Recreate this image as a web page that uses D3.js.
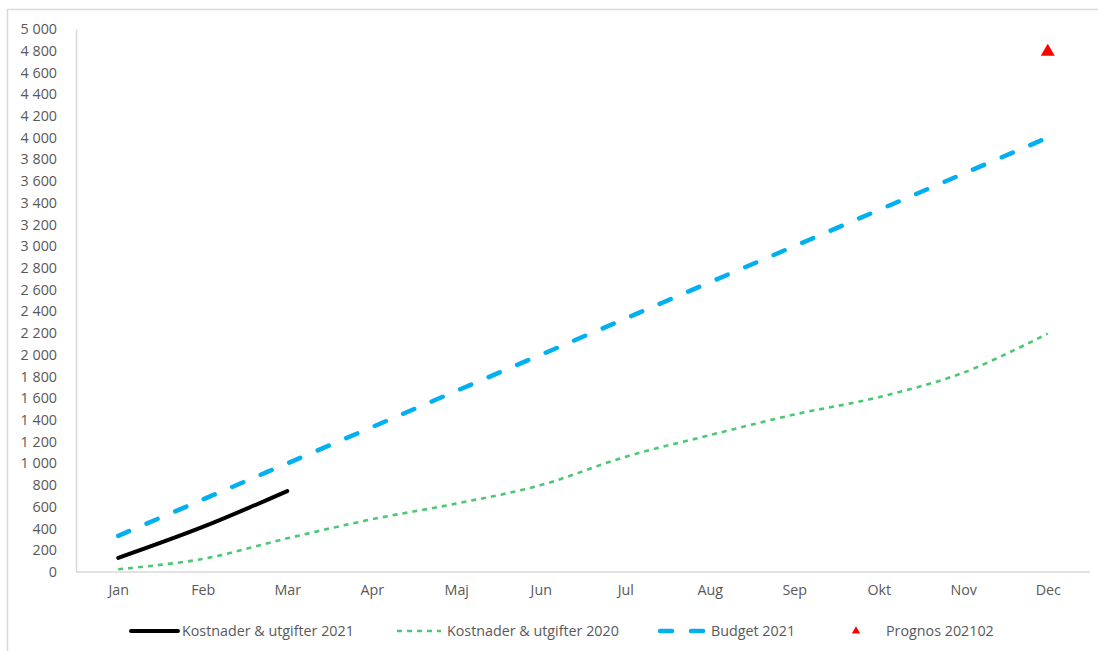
<!DOCTYPE html>
<html>
<head>
<meta charset="utf-8">
<script src="https://cdn.jsdelivr.net/npm/d3@7"></script>
<style>
  html, body { margin: 0; padding: 0; background: #fff; }
  svg { display: block; }
  text { font-family: "Open Sans", "Liberation Sans", Arial, sans-serif; fill: #595959; }
</style>
</head>
<body>
<svg id="chart" width="1098" height="651"></svg>
<script>
// Months of the year
const months = ["Jan", "Feb", "Mar", "Apr", "Maj", "Jun", "Jul", "Aug", "Sep", "Okt", "Nov", "Dec"];

// Accumulated costs 2021 (so far)
const kost2021 = [130, 415, 745];
// Accumulated costs 2020
const kost2020 = [25, 120, 310, 485, 630, 800, 1060, 1260, 1450, 1610, 1835, 2195];
// Accumulated budget 2021
const budget2021 = [333, 667, 1000, 1333, 1667, 2000, 2333, 2667, 3000, 3333, 3667, 4000];
// Forecast (202102) for year end
const prognosMonth = "Dec";
const prognosValue = 4790;

// Y axis ticks
const yTicks = d3.range(0, 5001, 200);

const seriesNames = ["Kostnader & utgifter 2021", "Kostnader & utgifter 2020", "Budget 2021", "Prognos 202102"];

const FONT = "'Open Sans', 'Liberation Sans', Arial, sans-serif";
const FS = 14.3;

const svg = d3.select("#chart");

// chart frame
svg.append("path")
  .attr("d", "M7.5,651 L7.5,9.5 L1098,9.5")
  .attr("fill", "none")
  .attr("stroke", "#d9d9d9")
  .attr("stroke-width", 1.5);

const plot = { left: 76, right: 1090, top: 29, bottom: 572 };

const x = d3.scalePoint()
  .domain(months)
  .range([plot.left, plot.right])
  .padding(0.5);

const y = d3.scaleLinear()
  .domain([0, 5000])
  .range([plot.bottom, plot.top]);

const fmt = v => d3.format(",")(v).replace(/,/g, "\u00a0");

// Y axis
const yAxis = svg.append("g")
  .attr("transform", `translate(${plot.left},0)`)
  .call(d3.axisLeft(y).tickValues(yTicks).tickFormat(fmt).tickSize(0).tickPadding(19));
yAxis.select(".domain").attr("stroke", "#d9d9d9").attr("stroke-width", 1.5);
yAxis.selectAll("text").attr("font-size", FS).style("font-family", FONT).attr("fill", "#595959");

// X axis
const xAxis = svg.append("g")
  .attr("transform", `translate(0,${plot.bottom})`)
  .call(d3.axisBottom(x).tickSize(0).tickPadding(13));
xAxis.select(".domain").attr("stroke", "#d9d9d9").attr("stroke-width", 1.5).attr("d", `M${plot.left},0H${plot.right}`);
xAxis.selectAll("text").attr("font-size", FS).style("font-family", FONT).attr("fill", "#595959");

const line = d3.line()
  .x((d, i) => x(months[i]))
  .y(d => y(d))
  .curve(d3.curveCatmullRom.alpha(0.5));

// 2020 costs
svg.append("path")
  .datum(kost2020)
  .attr("d", line)
  .attr("fill", "none")
  .attr("stroke", "#4cc774")
  .attr("stroke-width", 2.6)
  .attr("stroke-dasharray", "5,5");

// Budget 2021
svg.append("path")
  .datum(budget2021)
  .attr("d", line)
  .attr("fill", "none")
  .attr("stroke", "#00b0f0")
  .attr("stroke-width", 4.5)
  .attr("stroke-linecap", "round")
  .attr("stroke-dasharray", "12,19");

// 2021 costs
svg.append("path")
  .datum(kost2021)
  .attr("d", line)
  .attr("fill", "none")
  .attr("stroke", "#000")
  .attr("stroke-width", 4)
  .attr("stroke-linecap", "round");

// Forecast marker
const tri = d3.symbol().type(d3.symbolTriangle).size(85);
svg.append("path")
  .attr("d", tri)
  .attr("transform", `translate(${x(prognosMonth)},${y(prognosValue)})`)
  .attr("fill", "#ff0000");

// Legend
const legY = 631;
const leg = svg.append("g").style("font-family", FONT);

leg.append("line").attr("x1", 131).attr("x2", 178).attr("y1", legY).attr("y2", legY)
  .attr("stroke", "#000").attr("stroke-width", 4).attr("stroke-linecap", "round");
leg.append("text").attr("x", 182).attr("y", legY).attr("dy", "0.35em").attr("font-size", FS).text(seriesNames[0]);

leg.append("line").attr("x1", 397).attr("x2", 441).attr("y1", legY).attr("y2", legY)
  .attr("stroke", "#4cc774").attr("stroke-width", 2.6).attr("stroke-dasharray", "5,5");
leg.append("text").attr("x", 447).attr("y", legY).attr("dy", "0.35em").attr("font-size", FS).text(seriesNames[1]);

leg.append("line").attr("x1", 660).attr("x2", 705).attr("y1", legY).attr("y2", legY)
  .attr("stroke", "#00b0f0").attr("stroke-width", 4.5).attr("stroke-linecap", "round").attr("stroke-dasharray", "12,19");
leg.append("text").attr("x", 711).attr("y", legY).attr("dy", "0.35em").attr("font-size", FS).text(seriesNames[2]);

leg.append("path").attr("d", d3.symbol().type(d3.symbolTriangle).size(30))
  .attr("transform", `translate(856,${legY})`).attr("fill", "#ff0000");
leg.append("text").attr("x", 886).attr("y", legY).attr("dy", "0.35em").attr("font-size", FS).text(seriesNames[3]);
</script>
</body>
</html>
